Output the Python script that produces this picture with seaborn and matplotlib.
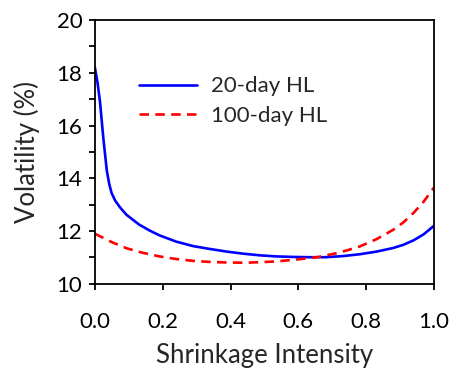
import matplotlib
matplotlib.use("Agg")
import matplotlib.pyplot as plt
from matplotlib.ticker import MultipleLocator, FormatStrFormatter
import seaborn as sns
import pandas as pd

x_20 = [0.0, 0.008, 0.015, 0.025, 0.035, 0.042, 0.049, 0.06, 0.074, 0.093, 0.13, 0.16, 0.19, 0.24,
        0.29, 0.34, 0.39, 0.44, 0.487, 0.535, 0.585, 0.63, 0.68, 0.73, 0.78, 0.83, 0.88, 0.91,
        0.94, 0.97, 1.0]
vol_20 = [18.2, 17.6, 16.9, 15.5, 14.3, 13.8, 13.45, 13.15, 12.9, 12.62, 12.25, 12.03, 11.84, 11.6,
          11.43, 11.32, 11.22, 11.14, 11.08, 11.04, 11.02, 11.01, 11.01, 11.05, 11.12, 11.22,
          11.36, 11.48, 11.65, 11.88, 12.2]

x_100 = [0.0, 0.05, 0.093, 0.14, 0.19, 0.24, 0.29, 0.34, 0.39, 0.44, 0.487, 0.535, 0.585, 0.63,
         0.66, 0.72, 0.78, 0.83, 0.88, 0.91, 0.94, 0.97, 1.0]
vol_100 = [11.9, 11.58, 11.35, 11.18, 11.04, 10.94, 10.87, 10.83, 10.81, 10.8, 10.82, 10.85,
           10.91, 10.97, 11.02, 11.18, 11.41, 11.69, 12.05, 12.33, 12.69, 13.12, 13.65]

labels = ["20-day HL", "100-day HL"]

df = pd.concat([
    pd.DataFrame({"x": x_20, "vol": vol_20, "series": labels[0]}),
    pd.DataFrame({"x": x_100, "vol": vol_100, "series": labels[1]}),
])

sns.set_style("ticks")
plt.rcParams["font.family"] = ["Lato", "DejaVu Sans"]

fig = plt.figure(figsize=(4.52, 3.72), dpi=100)
ax = fig.add_axes([0.210, 0.237, 0.750, 0.709])

sns.lineplot(data=df, x="x", y="vol", hue="series", style="series",
             palette={labels[0]: "#0000FF", labels[1]: "#FF0000"},
             dashes={labels[0]: "", labels[1]: (3.6, 2.4)},
             linewidth=1.9, ax=ax, estimator=None, sort=True)

ax.set_xlim(0, 1)
ax.set_ylim(10, 20)
ax.xaxis.set_major_locator(MultipleLocator(0.2))
ax.yaxis.set_major_locator(MultipleLocator(2))
ax.yaxis.set_minor_locator(MultipleLocator(1))
ax.xaxis.set_major_formatter(FormatStrFormatter("%.1f"))
ax.yaxis.set_major_formatter(FormatStrFormatter("%d"))

for s in ax.spines.values():
    s.set_visible(True)
    s.set_linewidth(1.3)
    s.set_color("black")

ax.tick_params(axis="both", which="both", direction="out", length=4, width=1.3,
               colors="black", labelsize=16)
ax.tick_params(axis="x", pad=16)
ax.tick_params(axis="y", pad=5)

ax.set_xlabel("Shrinkage Intensity", fontsize=18.5, labelpad=8)
ax.set_ylabel("Volatility (%)", fontsize=18.5, labelpad=12)

leg = ax.legend(loc="upper left", bbox_to_anchor=(0.105, 0.82), frameon=False,
                fontsize=16, handlelength=2.6, handletextpad=0.6, labelspacing=0.42,
                borderaxespad=0)
for h in leg.get_lines():
    h.set_linewidth(1.9)

fig.savefig("out.png", dpi=100)
